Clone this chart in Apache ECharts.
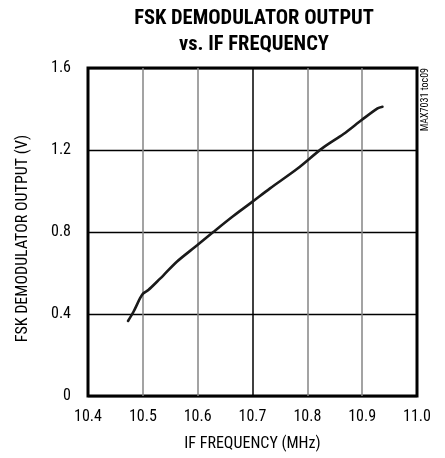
<!DOCTYPE html>
<html>
<head>
<meta charset="utf-8">
<script src="https://cdn.jsdelivr.net/npm/echarts@6/dist/echarts.min.js"></script>
<style>
html,body{margin:0;padding:0;background:#fff;}
#chart{width:445px;height:458px;}
</style>
</head>
<body>
<div id="chart"></div>
<script>
var freqMHz = [10.473, 10.483, 10.495, 10.501, 10.510, 10.532, 10.538, 10.562, 10.599, 10.629, 10.665, 10.700, 10.732, 10.781, 10.827, 10.866, 10.899, 10.928, 10.937];
var outputV = [0.366, 0.411, 0.477, 0.501, 0.517, 0.574, 0.590, 0.655, 0.735, 0.801, 0.878, 0.948, 1.013, 1.107, 1.208, 1.278, 1.346, 1.403, 1.411];
var xTickLabels = ['10.4', '10.5', '10.6', '10.7', '10.8', '10.9', '11.0'];
var yTickLabels = ['0', '0.4', '0.8', '1.2', '1.6'];

var FONT = "'Roboto Condensed', 'DejaVu Sans Condensed', sans-serif";
var chart = echarts.init(document.getElementById('chart'));
var pts = freqMHz.map(function (f, i) { return [f, outputV[i]]; });

chart.setOption({
  animation: false,
  backgroundColor: '#fff',
  title: {
    text: 'FSK DEMODULATOR OUTPUT\nvs. IF FREQUENCY',
    left: 249,
    top: 1,
    textAlign: 'center',
    textStyle: { fontFamily: FONT, fontWeight: 'bold', fontSize: 20.5, lineHeight: 26, color: '#000' }
  },
  grid: {
    left: 88, right: 28, top: 68, bottom: 62,
    show: true, borderColor: '#000', borderWidth: 3, backgroundColor: 'transparent'
  },
  xAxis: {
    type: 'value', min: 10.4, max: 11.0, interval: 0.1,
    name: 'IF FREQUENCY (MHz)', nameLocation: 'middle', nameGap: 40,
    nameTextStyle: { fontFamily: FONT, fontSize: 16, color: '#000' },
    axisLine: { show: false }, axisTick: { show: false },
    axisLabel: {
      margin: 13, fontFamily: FONT, fontSize: 16, color: '#000',
      formatter: function (v) { var i = Math.round((v - 10.4) / 0.1); return xTickLabels[i]; }
    },
    splitLine: { show: true, lineStyle: { color: ['#000', '#858585', '#858585', '#000', '#858585', '#858585', '#000'], width: 1.5 } }
  },
  yAxis: {
    type: 'value', min: 0, max: 1.6, interval: 0.4,
    name: 'FSK DEMODULATOR OUTPUT (V)', nameLocation: 'middle', nameGap: 57,
    nameTextStyle: { fontFamily: FONT, fontSize: 16, color: '#000', padding: [0, 13, 0, 0] },
    axisLine: { show: false }, axisTick: { show: false },
    axisLabel: {
      margin: 17, fontFamily: FONT, fontSize: 16, color: '#000', padding: [3, 0, 0, 0],
      formatter: function (v) { var i = Math.round(v / 0.4); return yTickLabels[i]; }
    },
    splitLine: { show: true, lineStyle: { color: '#000', width: 1.3 } }
  },
  graphic: [{
    type: 'text', left: 420, top: 68, rotation: Math.PI / 2,
    style: { text: 'MAX7031 toc09', fontFamily: FONT, fontSize: 10, fill: '#000' }
  }],
  series: [{
    type: 'line', data: pts, smooth: 0.3, showSymbol: false,
    lineStyle: { color: '#1a1a1a', width: 2.6, cap: 'round' }
  }]
});
</script>
</body>
</html>
